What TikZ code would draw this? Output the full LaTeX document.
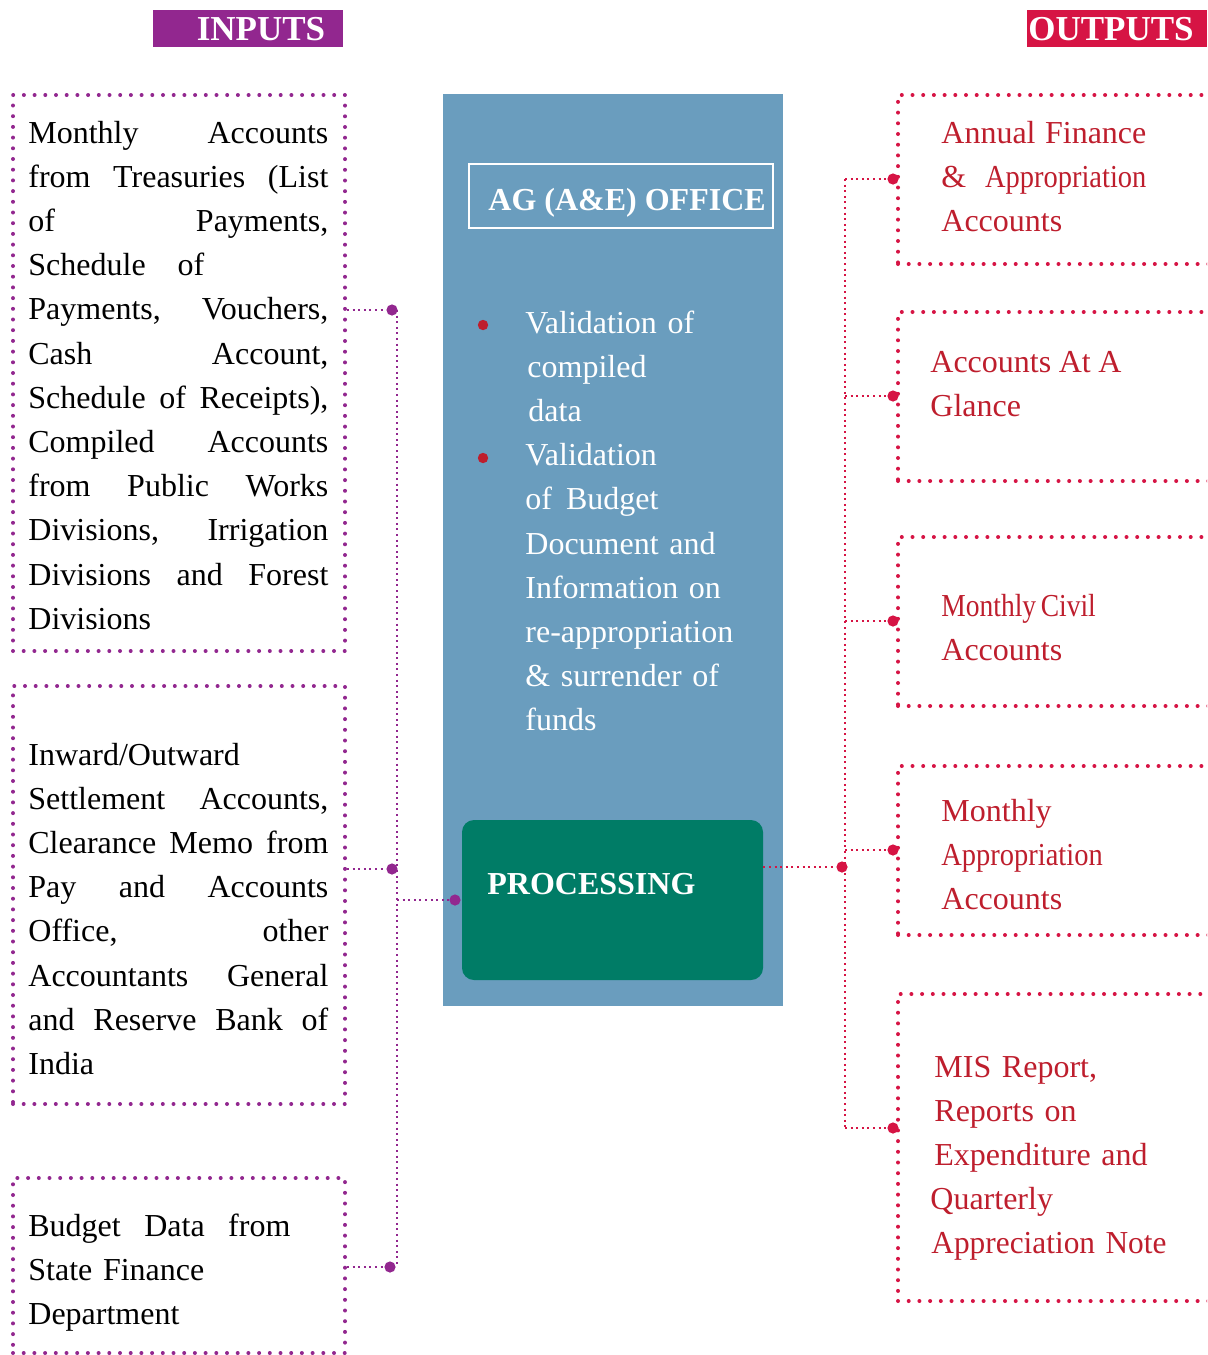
\documentclass[tikz,border=0pt]{standalone}
\usepackage{fontspec}
\setmainfont{Liberation Serif}
\usetikzlibrary{fit}

\definecolor{inpurple}{RGB}{146,39,143}
\definecolor{outred}{RGB}{214,20,68}
\definecolor{outtext}{RGB}{190,30,45}
\definecolor{panelblue}{RGB}{106,157,190}
\definecolor{procgreen}{RGB}{0,124,102}

\newcommand{\bodyfont}{\fontsize{16}{22.1}\selectfont}
\newcommand{\headfont}{\fontsize{17.5}{20}\selectfont\bfseries}
\newcommand{\tightword}[1]{\scalebox{0.89}[1]{#1}}

\tikzset{
  inbox/.style={draw=inpurple, line width=2pt, dash pattern=on 0pt off 5.35pt, line cap=round, inner sep=0pt},
  outbox/.style={draw=outred, line width=2pt, dash pattern=on 0pt off 5.35pt, line cap=round, inner sep=0pt},
  inlink/.style={draw=inpurple, line width=1.1pt, dash pattern=on 1pt off 1.8pt},
  outlink/.style={draw=outred, line width=1.1pt, dash pattern=on 1pt off 1.8pt},
  jdot/.style={circle, inner sep=0pt, minimum size=5.6pt},
  bodytext/.style={anchor=base west, inner sep=0pt, align=left, font=\bodyfont},
  headtext/.style={inner sep=0pt, text=white, font=\headfont},
  boldtext/.style={anchor=base west, inner sep=0pt, text=white, font=\fontsize{16}{20}\selectfont\bfseries}
}

\begin{document}
\begin{tikzpicture}[x=0.5pt,y=-0.5pt]
\useasboundingbox (0,0) rectangle (1207,1355);
\clip (0,0) rectangle (1207,1355);

% headers
\node (inhead) [fill=inpurple, inner sep=0pt, fit={(153,10) (343,47)}] {};
\node (intitle) [headtext] at (261,29) {INPUTS};
\node (outhead) [fill=outred, inner sep=0pt, fit={(1027,10) (1207,47)}] {};
\node (outtitle) [headtext] at (1111,29) {OUTPUTS};

% input boxes
\node (inbox1) [inbox, fit={(13,95) (345,651)}] {};
\node (intext1) [bodytext, text width=150pt] at (28,143) {%
  Monthly\hfill Accounts\\
  from\hfill Treasuries\hfill (List\\
  of\hfill Payments,\\
  Schedule\hspace{1em}of\\
  Payments,\hfill Vouchers,\\
  Cash\hfill Account,\\
  Schedule\hfill of\hfill Receipts),\\
  Compiled\hfill Accounts\\
  from\hfill Public\hfill Works\\
  Divisions,\hfill Irrigation\\
  Divisions\hfill and\hfill Forest\\
  Divisions};

\node (inbox2) [inbox, fit={(13,686) (345,1104)}] {};
\node (intext2) [bodytext, text width=150pt] at (28,765) {%
  Inward/Outward\\
  Settlement\hfill Accounts,\\
  Clearance\hfill Memo\hfill from\\
  Pay\hfill and\hfill Accounts\\
  Office,\hfill other\\
  Accountants\hfill General\\
  and\hfill Reserve\hfill Bank\hfill of\\
  India};

\node (inbox3) [inbox, fit={(13,1178) (345,1353)}] {};
\node (intext3) [bodytext, text width=131pt] at (28,1236) {%
  Budget\hfill Data\hfill from\\
  State Finance\\
  Department};

% office panel
\node (office) [fill=panelblue, inner sep=0pt, fit={(443,94) (783,1006)}] {};
\node (agbox) [draw=white, line width=1pt, inner sep=0pt, fit={(469,164) (773,228)}] {};
\node (agtitle) [boldtext] at (488,210) {AG (A\&E) OFFICE};

\node (bul1) [jdot, fill=outtext, minimum size=5.2pt] at (483,325) {};
\node (bul2) [jdot, fill=outtext, minimum size=5.2pt] at (483,458) {};
\node (tasks) [bodytext, text=white, text width=110pt] at (525,333) {%
  Validation of\\
  \hspace*{1pt}compiled\\
  \hspace*{1.5pt}data\\
  Validation\\
  of\hspace{7pt}Budget\\
  Document and\\
  Information on\\
  re-appropriation\\
  \& surrender of\\
  funds};

\node (proc) [fill=procgreen, rounded corners=6pt, inner sep=0pt, fit={(462,820) (763,980)}] {};
\node (proctitle) [boldtext] at (487,894) {PROCESSING};

% output boxes
\node (outbox1) [outbox, fit={(898,95) (1222,264)}] {};
\node (outtext1) [bodytext, text=outtext, text width=102.5pt] at (941,143) {%
  Annual\hfill Finance\\
  \&\hfill\tightword{Appropriation}\\
  Accounts};

\node (outbox2) [outbox, fit={(898,312) (1222,481)}] {};
\node (outtext2) [bodytext, text=outtext, text width=95.5pt] at (930,372) {%
  Accounts\hfill At\hfill A\\
  Glance};

\node (outbox3) [outbox, fit={(898,537) (1222,706)}] {};
\node (outtext3) [bodytext, text=outtext, text width=100pt] at (941,616) {%
  \scalebox{0.86}[1]{Monthly\,Civil}\\
  Accounts};

\node (outbox4) [outbox, fit={(898,766) (1222,935)}] {};
\node (outtext4) [bodytext, text=outtext, text width=100pt] at (941,821) {%
  Monthly\\
  \tightword{Appropriation}\\
  Accounts};

\node (outbox5) [outbox, fit={(898,994) (1222,1301)}] {};
\node (outtext5) [bodytext, text=outtext, text width=120pt] at (934,1077) {%
  MIS Report,\\
  \makebox[81pt][s]{Reports on}\\
  Expenditure and\\
  \hspace*{-2pt}Quarterly\\
  \hspace*{-1.5pt}\scalebox{0.98}[1]{Appreciation Note}};

% input connectors
\coordinate (ltop) at (397,310);
\coordinate (lbot) at (397,1267);
\node (ldot1) [jdot, fill=inpurple] at (392,310) {};
\node (ldot2) [jdot, fill=inpurple] at (392,869) {};
\node (ldot3) [jdot, fill=inpurple] at (390,1267) {};
\node (pdot) [jdot, fill=inpurple] at (455,900) {};
\draw [inlink] (ltop) -- (lbot);
\draw [inlink] (ldot1 -| inbox1.east) -- (ldot1);
\draw [inlink] (ldot2 -| inbox2.east) -- (ldot2);
\draw [inlink] (ldot3 -| inbox3.east) -- (ldot3);
\draw [inlink] (ltop |- pdot) -- (pdot);

% output connectors
\coordinate (rtop) at (845,179);
\coordinate (rbot) at (845,1128);
\node (rdot0) [jdot, fill=outred] at (842,867) {};
\node (rdot1) [jdot, fill=outred] at (893,179) {};
\node (rdot2) [jdot, fill=outred] at (893,396) {};
\node (rdot3) [jdot, fill=outred] at (893,621) {};
\node (rdot4) [jdot, fill=outred] at (893,850) {};
\node (rdot5) [jdot, fill=outred] at (893,1128) {};
\draw [outlink] (rtop) -- (rbot);
\draw [outlink] (rdot0 -| proc.east) -- (rdot0);
\foreach \i in {1,...,5}
  \draw [outlink] (rtop |- rdot\i) -- (rdot\i);
\end{tikzpicture}
\end{document}
